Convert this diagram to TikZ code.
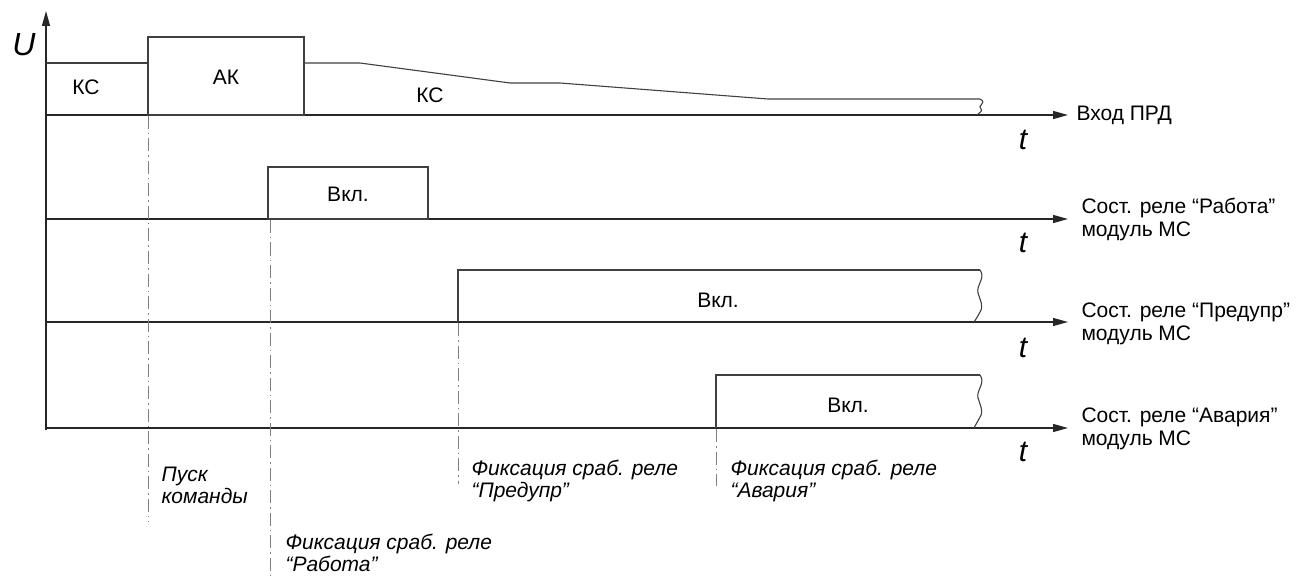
\documentclass[tikz,border=0pt]{standalone}
\usepackage{fontspec}
\setmainfont{Liberation Sans}
\usetikzlibrary{arrows.meta, positioning}

\tikzset{
  axis/.style={line width=1.3pt, draw=black!85, -{Triangle[length=15pt,width=8pt]}},
  sig/.style={line width=1.1pt, draw=black!75},
  fixline/.style={line width=1pt, draw=black!50, dash pattern=on 13pt off 4pt on 1.5pt off 4pt},
  tlabel/.style={font=\fontsize{30}{30}\selectfont\itshape},
  chan/.style={anchor=west, align=left, font=\fontsize{21}{23}\selectfont},
  note/.style={anchor=west, align=left, font=\fontsize{21}{22}\selectfont\itshape}
}

\begin{document}
\begin{tikzpicture}[x=1pt,y=-1pt, font=\fontsize{21}{24}\selectfont]
\useasboundingbox (0,0) rectangle (1297,577);

% time axes
\coordinate (o) at (46,430);
\coordinate (utop) at (46,11);
\draw[axis] (o) -- (utop);
\node[font=\fontsize{32}{32}\selectfont\itshape] (U) at (24,45) {U};
\foreach \n/\y/\ty in {1/115/140,2/219/243,3/322/348,4/428/452} {
    \coordinate (a\n) at (46,\y);
    \coordinate (e\n) at (1068,\y);
    \draw[axis] (a\n) -- (e\n);
    \node[tlabel] (t\n) at (1023,\ty) {t};
}

% channel names
\node[chan] (prd) at (1073,115) {Вход ПРД};
\node[chan] (rab) at (1078,219.5) {Сост. реле “Работа”\\модуль МС};
\node[chan] (pre) at (1078,323.5) {Сост. реле “Предупр”\\модуль МС};
\node[chan] (avr) at (1078,428.5) {Сост. реле “Авария”\\модуль МС};

% input of transmitter
\draw[sig] (46,63) -- (148,63);
\draw[sig] (148,115) rectangle (304,37);
\draw[sig] (304,63) -- (360,63) -- (510,83) -- (560,83) -- (768,99) -- (980,99);
\draw[sig] (980,99) .. controls (988,103) and (976,106) .. (981,109) .. controls (983,111) and (979,113) .. (977,115);
\node (ks1) at (86,87) {КС};
\node (ak) at (226,77) {АК};
\node (ks2) at (430,95) {КС};

% relay "Работа"
\draw[sig] (268,219) rectangle (428,167);
\node (on1) at (348,194) {Вкл.};

% relay "Предупр"
\draw[sig] (458,322) -- (458,270) -- (980,270);
\draw[sig] (980,270) .. controls (986,278) and (976,285) .. (978,293) .. controls (980,300) and (984,306) .. (980,312) .. controls (978,316) and (976,319) .. (974,322);
\node (on2) at (718,300) {Вкл.};

% relay "Авария"
\draw[sig] (716,428) -- (716,375) -- (980,375);
\draw[sig] (980,375) .. controls (986,383) and (976,390) .. (978,398) .. controls (980,405) and (984,411) .. (980,417) .. controls (978,421) and (976,424) .. (974,428);
\node (on3) at (848,405) {Вкл.};

% moments of fixing
\draw[fixline] (148,116) -- (148,522);
\draw[fixline] (270,220) -- (270,577);
\draw[fixline] (458,323) -- (458,484);
\draw[fixline] (716,429) -- (716,486);
\node[note] (start) at (158,485) {Пуск\\команды};
\node[note] (fix1) at (282,553) {Фиксация сраб. реле\\“Работа”};
\node[note] (fix2) at (468,481) {Фиксация сраб. реле\\“Предупр”};
\node[note] (fix3) at (727,481) {Фиксация сраб. реле\\“Авария”};
\end{tikzpicture}
\end{document}
